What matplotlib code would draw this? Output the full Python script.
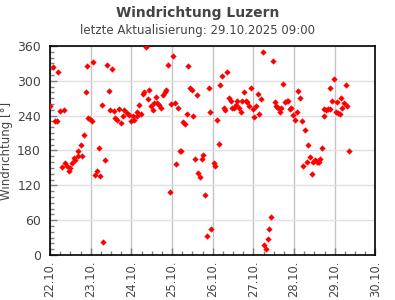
import pandas as pd
import matplotlib
matplotlib.use('Agg')
import matplotlib.pyplot as plt
import matplotlib.dates as mdates
from matplotlib.ticker import MultipleLocator

# hours after 22.10.2025 00:00 and wind direction in degrees
hours = [0, 2, 3, 4, 5, 6, 7, 8, 9, 10, 11, 12, 13, 14, 15, 16.5, 16.7, 18, 19, 20,
         21, 22, 22.4, 23.6, 24.9, 25.5, 26.7, 27.9, 29.1, 29.7, 30.8, 31.4, 32.6, 33.8, 35,
         35.6, 36.7, 37.9, 38.5, 39.7, 40.9, 42, 42.9, 43.8, 45.2, 46.4, 47.9, 48.8, 49.7,
         51.1, 51.5, 52.7, 53.8, 55, 55.6, 56.8, 58, 58.6, 59.7, 60.9, 61.5, 62.7, 63.3,
         64.5, 65.6, 66.8, 68, 68.6, 69.8, 71, 71.5, 72.7, 73.9, 74.5, 75.7, 76.8, 77.4,
         78.6, 79.8, 81, 81.6, 82.7, 83.9, 84.5, 85.7, 86.9, 87.5, 88.6, 89.8, 90.4, 91.6,
         92.8, 93.9, 94.5, 95.1, 96.9, 97.5, 98.7, 99.8, 100.4, 101.6, 102.6, 103.4, 104.6,
         105.7, 106.9, 107.5, 108.7, 109.9, 110.5, 111.6, 112.8, 113.4, 114.6, 115.8, 116.4,
         117.5, 118.7, 119.9, 120.5, 121.7, 122.8, 123.4, 124.6, 125.8, 126.4, 127.6, 128.7,
         129.3, 130.5, 131.7, 132.9, 133.5, 134.6, 135.8, 136.4, 137.6, 138.8, 139.9, 140.5,
         141.7, 142.3, 143.5, 144.7, 145.8, 146.4, 147.6, 148.8, 149.4, 150.5, 151.7, 152.3,
         153.5, 154.7, 155.3, 156.5, 157.6, 158.2, 158.8, 159.4, 160.6, 161.8, 161.9, 162.9,
         164.1, 165.3, 165.4, 166.5, 167.7, 168.8, 169.4, 170, 171.2, 171.8, 172.4, 173.5,
         174.7, 175.3, 176.5]
direction = [256, 323, 230, 230, 315, 248, 151, 249, 158, 153, 145, 149, 158, 167, 163, 170, 179, 189, 170, 207,
             280, 325, 236, 234, 230, 332, 138, 144, 184, 136, 258, 22, 163, 327, 282,
             249, 320, 248, 236, 232, 251, 227, 239, 249, 244, 241, 230, 239, 232,
             246, 239, 258, 242, 277, 280, 359, 268, 284, 257, 250, 261, 272, 261,
             258, 254, 276, 280, 285, 328, 108, 260, 342, 261, 156, 253, 179, 179,
             229, 225, 242, 325, 287, 285, 239, 165, 275, 141, 134, 165, 172, 103,
             32, 287, 247, 44, 158, 153, 232, 191, 292, 308, 253, 249, 315,
             270, 265, 253, 254, 258, 265, 253, 246, 265, 280, 265, 263,
             256, 287, 251, 237, 256, 277, 242, 268, 349, 17, 10, 27,
             44, 65, 335, 263, 256, 254, 246, 254, 294, 263, 265, 266,
             251, 254, 241, 232, 246, 282, 270, 230, 153, 216, 160, 189,
             168, 139, 160, 163, 160, 161, 160, 165, 184, 251, 239, 249,
             251, 251, 287, 265, 303, 246, 263, 244, 242, 270, 253, 261,
             292, 256, 179]

day_labels = ['22.10.', '23.10.', '24.10.', '25.10.', '26.10.', '27.10.', '28.10.', '29.10.', '30.10.']

start = pd.Timestamp('2025-10-22 00:00')
times = [start + pd.Timedelta(hours=h) for h in hours]
days = pd.date_range('2025-10-22', periods=len(day_labels), freq='D')

fig = plt.figure(figsize=(3.95, 3.0), dpi=100)
ax = fig.add_axes([0.1266, 0.15, 0.8240, 0.6967])

ax.plot(times, direction, linestyle='none', marker='D', markersize=3.2,
        color='red', markeredgewidth=0, zorder=3)

ax.set_ylim(0, 360)
ax.set_xlim(days[0], days[-1])
ax.yaxis.set_major_locator(MultipleLocator(60))
ax.yaxis.set_minor_locator(MultipleLocator(10))
ax.set_xticks(days)
ax.set_xticklabels(day_labels, rotation=90)
ax.xaxis.set_minor_locator(mdates.HourLocator(byhour=[6, 12, 18]))

ax.grid(axis='y', which='major', color='#e0e0e0', linewidth=1)
ax.grid(axis='x', which='major', color='#c4c4c4', linewidth=1)
ax.set_axisbelow(True)

ax.tick_params(which='both', direction='in', colors='#808080', labelcolor='#444444',
               labelsize=9, top=False, right=False)
ax.tick_params(which='major', length=5, width=1)
ax.tick_params(which='minor', length=3, width=1)
ax.tick_params(axis='y', which='major', pad=6.5)
ax.tick_params(axis='x', which='major', pad=4, labelsize=8.3)
for s in ax.spines.values():
    s.set_linewidth(1.2)
    s.set_color('black')

ax.set_ylabel('Windrichtung [°]', fontsize=8.5, color='#444444', labelpad=3)

fig.text(0.5, 0.957, 'Windrichtung Luzern', ha='center', va='center',
         fontsize=10, fontweight='bold', color='#444444')
fig.text(0.5, 0.897, 'letzte Aktualisierung: 29.10.2025 09:00', ha='center', va='center',
         fontsize=8.5, color='#444444')

fig.savefig('out.png', dpi=100, facecolor='white')
